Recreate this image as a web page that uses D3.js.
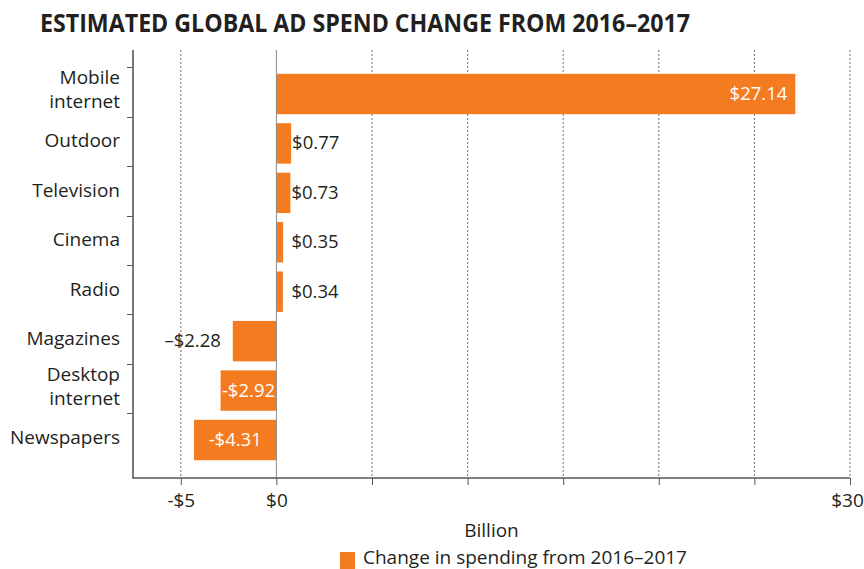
<!DOCTYPE html>
<html>
<head>
<meta charset="utf-8">
<script src="https://cdn.jsdelivr.net/npm/d3@7"></script>
<style>
  html, body { margin: 0; padding: 0; background: #fff; }
  svg { display: block; }
  text { font-family: "Open Sans", "Noto Sans", sans-serif; fill: #231f20; }
</style>
</head>
<body>
<svg id="chart" width="864" height="569"></svg>
<script>
// Category names (multi-line names split on "\n")
const categories = ["Mobile\ninternet", "Outdoor", "Television", "Cinema", "Radio", "Magazines", "Desktop\ninternet", "Newspapers"];
// Change in ad spend, billions of dollars
const values = [27.14, 0.77, 0.73, 0.35, 0.34, -2.28, -2.92, -4.31];
// Text shown for each bar
const valueLabels = ["$27.14", "$0.77", "$0.73", "$0.35", "$0.34", "–$2.28", "-$2.92", "-$4.31"];
// Where each value label sits: inside (white) or outside (dark)
const labelPlacement = ["insideEnd", "outside", "outside", "outside", "outside", "outside", "insideCenter", "insideCenter"];
// x gridline positions and which ones carry text
const xTicks = [-5, 0, 5, 10, 15, 20, 25, 30];
const xTickLabels = { "-5": "-$5", "0": "$0", "30": "$30" };
const xDomain = [-7.5, 30];

const title = "ESTIMATED GLOBAL AD SPEND CHANGE FROM 2016–2017";
const xTitle = "Billion";
const legendLabel = "Change in spending from 2016–2017";

const orange = "#f47b20";
const axisGrey = "#555";
const svg = d3.select("#chart");

const plot = { left: 133, right: 850, top: 50, bottom: 478 };

const x = d3.scaleLinear().domain(xDomain).range([plot.left, plot.right]);
const y = d3.scaleBand().domain(categories).range([56, plot.bottom])
  .paddingInner(0.183).paddingOuter(0.36);

// Title
svg.append("text")
  .attr("x", 40).attr("y", 32)
  .style("font-weight", 700)
  .style("font-size", "25px")
  .attr("textLength", 650).attr("lengthAdjust", "spacingAndGlyphs")
  .text(title);

// Vertical gridlines
svg.append("g").selectAll("line").data(xTicks.filter(d => d !== 0)).join("line")
  .attr("x1", d => x(d)).attr("x2", d => x(d))
  .attr("y1", plot.top).attr("y2", plot.bottom)
  .attr("stroke", "#707070")
  .attr("stroke-width", 1)
  .attr("stroke-dasharray", "2,2");

// Bars
svg.append("g").selectAll("rect").data(categories).join("rect")
  .attr("x", (d, i) => x(Math.min(0, values[i])))
  .attr("y", d => y(d))
  .attr("width", (d, i) => Math.abs(x(values[i]) - x(0)))
  .attr("height", y.bandwidth())
  .attr("fill", orange);

// Zero line drawn over the bars
svg.append("line")
  .attr("x1", x(0)).attr("x2", x(0))
  .attr("y1", plot.top).attr("y2", plot.bottom)
  .attr("stroke", "#8a8a8a").attr("stroke-width", 1);

// X axis
const xAxis = d3.axisBottom(x).tickValues(xTicks)
  .tickSize(7)
  .tickFormat(d => xTickLabels[String(d)] || "");
const gx = svg.append("g").attr("transform", `translate(0,${plot.bottom})`).call(xAxis);
gx.select(".domain").attr("stroke", axisGrey).attr("stroke-width", 1.6)
  .attr("d", `M${plot.left},0H${plot.right}`);
gx.selectAll(".tick line").attr("stroke", axisGrey).attr("stroke-width", 1);
gx.selectAll(".tick text")
  .attr("y", 29).attr("dy", null)
  .attr("dx", d => d === 30 ? -3 : 0)
  .style("font-size", "19px")
  .style("font-family", "'Open Sans', sans-serif")
  .style("fill", "#231f20");

// Y axis line and tick marks at the top of each band
svg.append("line")
  .attr("x1", plot.left).attr("x2", plot.left)
  .attr("y1", plot.top).attr("y2", plot.bottom + 0.8)
  .attr("stroke", axisGrey).attr("stroke-width", 1.6);
svg.append("g").selectAll("line").data(categories).join("line")
  .attr("x1", plot.left - 6).attr("x2", plot.left)
  .attr("y1", d => Math.round(y(d) - 6.5) + 0.5)
  .attr("y2", d => Math.round(y(d) - 6.5) + 0.5)
  .attr("stroke", axisGrey).attr("stroke-width", 1);

// Category labels
const lineH = 24;
svg.append("g").selectAll("text").data(categories).join("text")
  .attr("text-anchor", "end")
  .style("font-size", "19px")
  .each(function (d) {
    const lines = d.split("\n");
    const cy = y(d) + y.bandwidth() / 2;
    const first = lines.length === 1 ? cy + 4 : cy - 10;
    d3.select(this).selectAll("tspan").data(lines).join("tspan")
      .attr("x", 120)
      .attr("y", (l, k) => first + k * lineH)
      .text(l => l);
  });

// Value labels
svg.append("g").selectAll("text").data(categories).join("text")
  .style("font-size", "18.5px")
  .each(function (d, i) {
    const v = values[i];
    const mode = labelPlacement[i];
    const cy = y(d) + y.bandwidth() / 2 + 6;
    const sel = d3.select(this).attr("y", cy).text(valueLabels[i]);
    if (mode === "insideEnd") {
      sel.attr("x", x(v) - 8).attr("text-anchor", "end").style("fill", "#fff");
    } else if (mode === "insideCenter") {
      sel.attr("x", (x(v) + x(0)) / 2).attr("text-anchor", "middle").style("fill", "#fff");
    } else if (v >= 0) {
      sel.attr("x", Math.max(x(v) + 1, x(0) + 15)).attr("text-anchor", "start");
    } else {
      sel.attr("x", x(v) - 12).attr("text-anchor", "end");
    }
  });

// X axis title
svg.append("text")
  .attr("x", (plot.left + plot.right) / 2).attr("y", 537)
  .attr("text-anchor", "middle")
  .style("font-size", "19px")
  .text(xTitle);

// Legend
svg.append("rect").attr("x", 340).attr("y", 552).attr("width", 15).attr("height", 17).attr("fill", orange);
svg.append("text").attr("x", 363).attr("y", 564)
  .style("font-size", "19px")
  .text(legendLabel);
</script>
</body>
</html>
